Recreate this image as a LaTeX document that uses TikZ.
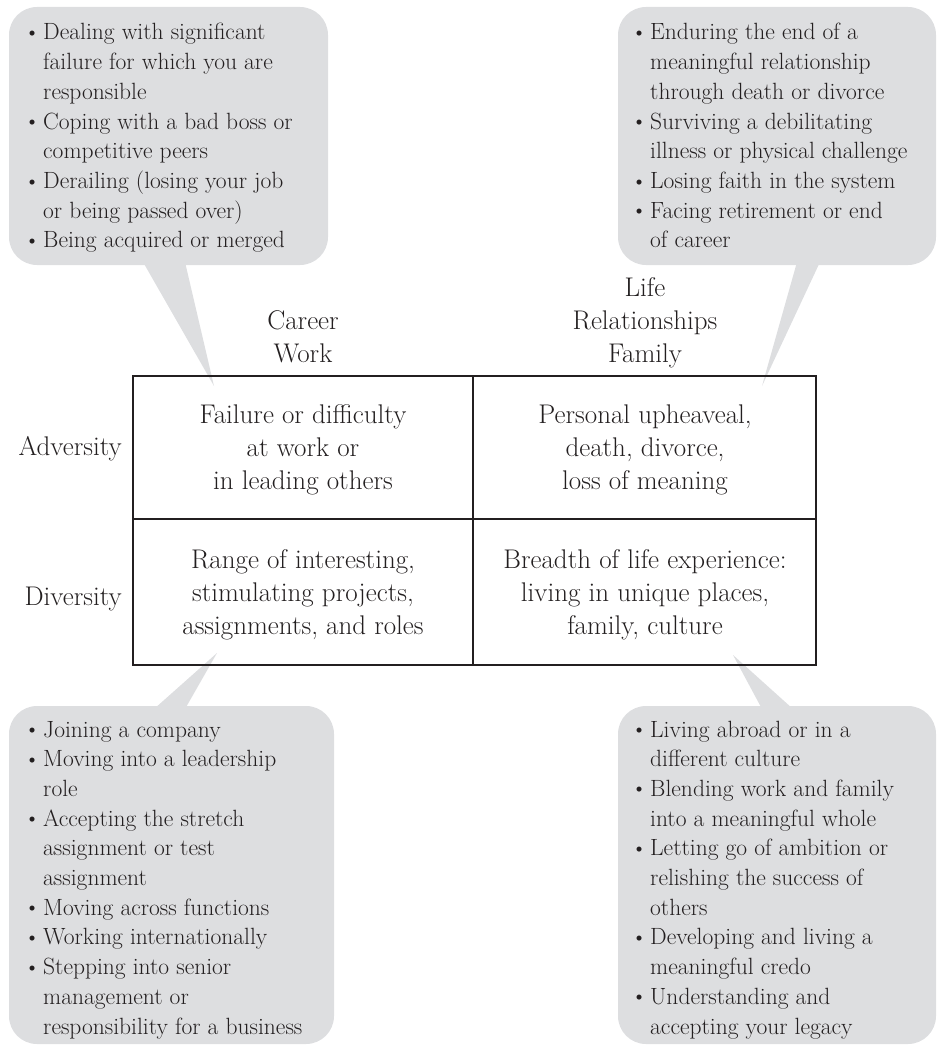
\documentclass[tikz,border=0pt]{standalone}
\usepackage{fontspec}
\usepackage{graphicx}

\definecolor{notegray}{RGB}{221,222,224}
\definecolor{ink}{RGB}{35,31,32}

% bullet and hanging indent for the callout lists
\newcommand{\bul}{\makebox[15pt][l]{\hspace*{-4pt}\raisebox{0.02em}{\scalebox{0.95}{\textbullet}}}}

\begin{document}
\begin{tikzpicture}[x=1pt,y=-1pt,
    every node/.style={inner sep=0pt, text=ink},
    note/.style={font=\fontsize{23.5}{29.7}\selectfont, anchor=base west},
    cell/.style={font=\fontsize{27}{33}\selectfont, anchor=base},
    notebox/.style={fill=notegray, rounded corners=28pt},
    grid/.style={draw=ink, line width=1.6pt}]
    \useasboundingbox (0,0) rectangle (940,1046);

    % callout boxes with their pointers
    \fill[notebox] (9,7) rectangle (328,265);
    \fill[notebox] (618,7) rectangle (936,265);
    \fill[notebox] (9,706) rectangle (334,1044);
    \fill[notebox] (618,706) rectangle (936,1044);

    \coordinate (tipAW) at (214,386);
    \coordinate (tipAL) at (762,386);
    \coordinate (tipDW) at (217,653);
    \coordinate (tipDL) at (733,655);
    \fill[notegray] (143,262) -- (185,262) -- (tipAW) -- cycle;
    \fill[notegray] (797,262) -- (820,262) -- (tipAL) -- cycle;
    \fill[notegray] (154,709) -- (185,709) -- (tipDW) -- cycle;
    \fill[notegray] (762,709) -- (793,709) -- (tipDL) -- cycle;

    \node[note] (advwork) at (28,40) {\begin{tabular}[t]{@{}l@{}l@{}}
        \bul & Dealing with significant\\
             & failure for which you are\\
             & responsible\\
        \bul & Coping with a bad boss or\\
             & competitive peers\\
        \bul & Derailing (losing your job\\
             & or being passed over)\\
        \bul & Being acquired or merged
    \end{tabular}};
    \node[note] (advlife) at (635,40) {\begin{tabular}[t]{@{}l@{}l@{}}
        \bul & Enduring the end of a\\
             & meaningful relationship\\
             & through death or divorce\\
        \bul & Surviving a debilitating\\
             & illness or physical challenge\\
        \bul & Losing faith in the system\\
        \bul & Facing retirement or end\\
             & of career
    \end{tabular}};
    \node[note] (divwork) at (28,737) {\begin{tabular}[t]{@{}l@{}l@{}}
        \bul & Joining a company\\
        \bul & Moving into a leadership\\
             & role\\
        \bul & Accepting the stretch\\
             & assignment or test\\
             & assignment\\
        \bul & Moving across functions\\
        \bul & Working internationally\\
        \bul & Stepping into senior\\
             & management or\\
             & responsibility for a business
    \end{tabular}};
    \node[note] (divlife) at (635,737) {\begin{tabular}[t]{@{}l@{}l@{}}
        \bul & Living abroad or in a\\
             & different culture\\
        \bul & Blending work and family\\
             & into a meaningful whole\\
        \bul & Letting go of ambition or\\
             & relishing the success of\\
             & others\\
        \bul & Developing and living a\\
             & meaningful credo\\
        \bul & Understanding and\\
             & accepting your legacy
    \end{tabular}};

    % the 2x2 grid
    \draw[grid] (133,376) rectangle (816,665);
    \draw[grid] (473,376) -- (473,665);
    \draw[grid] (133,519) -- (816,519);

    \node[cell] (colwork) at (303,362) {\begin{tabular}[b]{@{}c@{}}Career\\Work\end{tabular}};
    \node[cell] (collife) at (645,362) {\begin{tabular}[b]{@{}c@{}}Life\\Relationships\\Family\end{tabular}};
    \node[cell, anchor=base east] (rowadv) at (122,455) {Adversity};
    \node[cell, anchor=base east] (rowdiv) at (122,605) {Diversity};

    \node[cell] (cellaw) at (303,423) {\begin{tabular}[t]{@{}c@{}}Failure or difficulty\\at work or\\in leading others\end{tabular}};
    \node[cell] (cellal) at (645,423) {\begin{tabular}[t]{@{}c@{}}Personal upheaveal,\\death, divorce,\\loss of meaning\end{tabular}};
    \node[cell] (celldw) at (303,568) {\begin{tabular}[t]{@{}c@{}}Range of interesting,\\stimulating projects,\\assignments, and roles\end{tabular}};
    \node[cell] (celldl) at (645,568) {\begin{tabular}[t]{@{}c@{}}Breadth of life experience:\\living in unique places,\\family, culture\end{tabular}};
\end{tikzpicture}
\end{document}
